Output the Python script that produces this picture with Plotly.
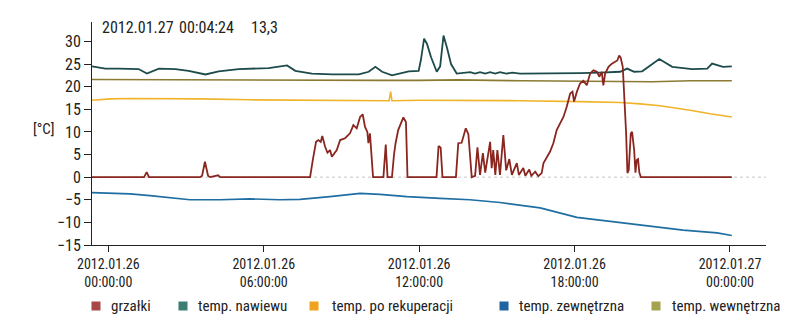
import plotly.graph_objects as go
import pandas as pd

BASE = pd.Timestamp("2012-01-26 00:00:00")

# ---- data (hours after 2012.01.26 00:00, value in °C) ----
heat_h = [-0.63, 1.22, 1.38, 1.48, 1.57, 3.54, 3.62, 3.73, 3.85, 3.93, 4.24, 4.32,
          7.79, 7.90, 8.02, 8.11, 8.20, 8.26, 8.37, 8.46, 8.56, 8.63, 8.82, 8.95, 9.14,
          9.33, 9.46, 9.59, 9.72, 9.82, 9.91, 10.00, 10.04, 10.10, 10.17, 10.22,
          10.62, 10.71, 10.78, 10.95, 11.03, 11.09, 11.19, 11.26, 11.39, 11.49, 11.55,
          12.67, 12.75, 12.83, 12.90, 13.42, 13.51, 13.64, 13.80, 13.90, 13.96, 14.03,
          14.16, 14.25, 14.35, 14.46, 14.55, 14.74, 14.80, 14.86, 14.94, 15.02, 15.12,
          15.25, 15.36, 15.48, 15.58, 15.77, 15.85, 16.02, 16.10, 16.25, 16.33, 16.48,
          16.60, 16.73, 16.80, 16.93, 17.05, 17.18, 17.31, 17.44, 17.57, 17.70, 17.83,
          17.92, 17.98, 18.09, 18.21, 18.34, 18.47, 18.60, 18.73, 18.86, 18.96, 19.05,
          19.11, 19.18, 19.31, 19.44, 19.56, 19.65, 19.72, 19.78, 19.86, 19.91, 19.99,
          20.04, 20.09, 20.17, 20.22, 20.30, 20.35, 20.40, 20.45, 20.50, 20.56, 24.07]
heat_v = [0, 0, 0, 1.1, 0, 0, 0.3, 3.4, 0.3, 0, 0.4, 0,
          0, 4.0, 7.8, 8.2, 7.8, 9.1, 6.7, 5.4, 6.0, 4.5, 6.0, 8.2, 8.6,
          9.7, 11.5, 10.8, 13.3, 13.9, 11.1, 10.0, 7.5, 9.7, 4.0, 0,
          0, 7.2, 0, 0, 5.0, 7.5, 10.4, 11.5, 13.2, 12.2, 0,
          0, 6.9, 6.5, 0, 0, 7.5, 7.6, 10.8, 9.5, 5.0, 0,
          0.3, 6.6, 0.5, 5.3, 1.0, 7.8, 2.0, 6.0, 0.5, 6.0, 0.5,
          9.3, 1.5, 4.0, 0.5, 3.1, 0.5, 2.0, 0.3, 1.7, 0.3, 1.2,
          0.2, 0.9, 3.1, 4.5, 5.6, 7.5, 10.4, 11.9, 13.3, 15.6, 18.5,
          18.9, 16.7, 18.9, 20.7, 21.3, 20.3, 22.9, 23.6, 23.3, 22.2, 23.3,
          20.3, 22.9, 24.4, 25.1, 25.5, 25.8, 26.9, 26.4, 24.4, 19.2, 9.7,
          0.9, 1.5, 9.7, 10.0, 6.0, 1.0, 3.8, 4.0, 1.0, 0, 0]

supply_h = [-0.63, -0.12, 0.40, 1.17, 1.49, 1.95, 2.59, 3.10, 3.75, 4.26, 5.03, 5.81,
            6.19, 6.90, 7.22, 7.86, 8.64, 9.67, 10.05, 10.31, 10.57, 10.95, 11.21, 11.60,
            11.98, 12.07, 12.19, 12.30, 12.46, 12.68, 12.81, 12.94, 13.08, 13.23, 13.45,
            13.97, 14.16, 14.35, 14.55, 14.74, 14.94, 15.12, 15.36, 15.59, 15.90, 16.67,
            17.44, 18.21, 18.98, 19.76, 20.03, 20.30, 20.61, 21.27, 21.77, 22.54, 23.12,
            23.31, 23.73, 24.07]
supply_v = [24.5, 24.0, 24.0, 23.9, 22.9, 24.0, 23.9, 23.5, 22.7, 23.4, 23.9, 24.0,
            24.1, 24.7, 23.5, 22.9, 22.7, 22.7, 23.3, 24.4, 23.3, 22.5, 22.9, 23.4,
            23.5, 26.0, 30.6, 29.5, 26.5, 23.3, 24.5, 31.3, 28.5, 25.0, 22.9,
            23.2, 22.9, 23.2, 22.9, 23.2, 22.9, 23.2, 22.9, 23.1, 22.9, 22.9,
            23.0, 23.0, 23.1, 23.3, 24.0, 23.3, 23.4, 26.1, 24.4, 23.9, 24.0,
            25.1, 24.4, 24.5]

recup_h = [-0.63, 0.07, 0.84, 2.00, 3.54, 5.47, 7.40, 9.33, 10.84, 10.90, 10.95, 12.03,
           13.96, 15.90, 18.21, 19.76, 20.53, 21.30, 22.46, 23.23, 24.07]
recup_v = [17.0, 17.3, 17.4, 17.4, 17.3, 17.1, 17.0, 16.9, 16.9, 18.9, 16.9, 17.0,
           17.0, 16.9, 16.7, 16.5, 16.2, 15.8, 14.8, 14.0, 13.3]

outside_h = [-0.63, 0.07, 0.84, 1.61, 2.38, 3.15, 4.31, 5.47, 6.63, 7.40, 8.56, 9.72,
             10.49, 11.53, 12.81, 13.96, 15.12, 16.67, 18.09, 19.64, 20.92, 22.19, 23.50, 24.07]
outside_v = [-3.4, -3.5, -3.7, -4.1, -4.6, -5.0, -5.0, -4.8, -5.0, -4.9, -4.3, -3.6,
             -3.8, -4.3, -4.7, -5.0, -5.6, -6.8, -8.9, -10.0, -10.9, -11.7, -12.3, -12.9]

inside_h = [-0.63, 3.0, 6.0, 9.5, 10.5, 12.0, 13.5, 16.0, 18.5, 20.0, 21.0, 22.5, 24.07]
inside_v = [21.6, 21.5, 21.5, 21.3, 21.4, 21.4, 21.5, 21.3, 21.2, 21.0, 21.1, 21.3, 21.3]

tick_h = [0, 6, 12, 18, 24]
tick_labels = ["2012.01.26<br>00:00:00", "2012.01.26<br>06:00:00", "2012.01.26<br>12:00:00",
               "2012.01.26<br>18:00:00", "2012.01.27<br>00:00:00"]
y_ticks = [-15, -10, -5, 0, 5, 10, 15, 20, 25, 30]

names = ["grzałki", "temp. nawiewu", "temp. po rekuperacji", "temp. zewnętrzna", "temp. wewnętrzna"]
line_colors = ["#8a2620", "#1d4a4a", "#f0b42a", "#1f6ea3", "#8a7a32"]
legend_colors = ["#a8474a", "#3c7e72", "#f0a21e", "#1d64a0", "#a4a24e"]
legend_sq_x = [0.0059, 0.1350, 0.3294, 0.6113, 0.8368]
legend_tx_x = [0.0252, 0.1543, 0.3531, 0.6306, 0.8576]

header = ["2012.01.27", "00:04:24", "13,3"]


def t(hours):
    return [BASE + pd.Timedelta(hours=h) for h in hours]


FONT = "Liberation Sans Narrow, Arial Narrow, Roboto Condensed, Roboto, sans-serif"
TXT = "#222"

fig = go.Figure()

series = [(inside_h, inside_v, 4, 1.6), (recup_h, recup_v, 2, 1.6), (outside_h, outside_v, 3, 1.7),
          (supply_h, supply_v, 1, 1.8), (heat_h, heat_v, 0, 1.8)]
for hs, vs, idx, w in series:
    fig.add_trace(go.Scatter(x=t(hs), y=vs, mode="lines", name=names[idx],
                             line=dict(color=line_colors[idx], width=w),
                             showlegend=False))

# dotted zero reference line
fig.add_shape(type="line", xref="paper", x0=0, x1=1, yref="y", y0=0, y1=0,
              line=dict(color="#c8c8c8", width=1, dash="dot"), layer="below")

# legend drawn as squares + labels below the axis
half = 0.0067
for i, nm in enumerate(names):
    fig.add_shape(type="rect", xref="paper", yref="paper",
                  x0=legend_sq_x[i] - half, x1=legend_sq_x[i] + half,
                  y0=-0.2937, y1=-0.2534,
                  line=dict(width=0), fillcolor=legend_colors[i])
    fig.add_annotation(text=nm, xref="paper", yref="paper", x=legend_tx_x[i], y=-0.2735,
                       showarrow=False, xanchor="left", yanchor="middle",
                       font=dict(family=FONT, size=15, color=TXT))

fig.update_layout(
    width=802, height=330,
    margin=dict(l=92, r=36, t=22, b=85),
    paper_bgcolor="white", plot_bgcolor="white",
    font=dict(family=FONT, size=15, color=TXT),
    showlegend=False,
)

fig.update_xaxes(type="date", range=t([-0.63, 25.39]),
                 tickvals=t(tick_h), ticktext=tick_labels,
                 showgrid=False, zeroline=False, showline=True, linecolor=TXT, linewidth=1,
                 ticks="outside", ticklen=6, tickcolor=TXT,
                 tickfont=dict(family=FONT, size=14, color=TXT))
fig.update_yaxes(range=[-15, 34.3], tickvals=y_ticks,
                 showgrid=False, zeroline=False, showline=True, linecolor=TXT, linewidth=1,
                 ticks="outside", ticklen=7, tickcolor=TXT,
                 tickfont=dict(family=FONT, size=16, color=TXT))

fig.add_annotation(text="[°C]", xref="paper", yref="paper", x=-0.071, y=0.52,
                   showarrow=False, xanchor="center", yanchor="middle",
                   font=dict(family=FONT, size=15, color=TXT))
hx = [0.012, 0.126, 0.233]
for txt, xx in zip(header, hx):
    fig.add_annotation(text=txt, xref="paper", yref="paper", x=xx, y=0.975,
                       showarrow=False, xanchor="left", yanchor="middle",
                       font=dict(family=FONT, size=16, color=TXT))

fig.write_html("out.html")
